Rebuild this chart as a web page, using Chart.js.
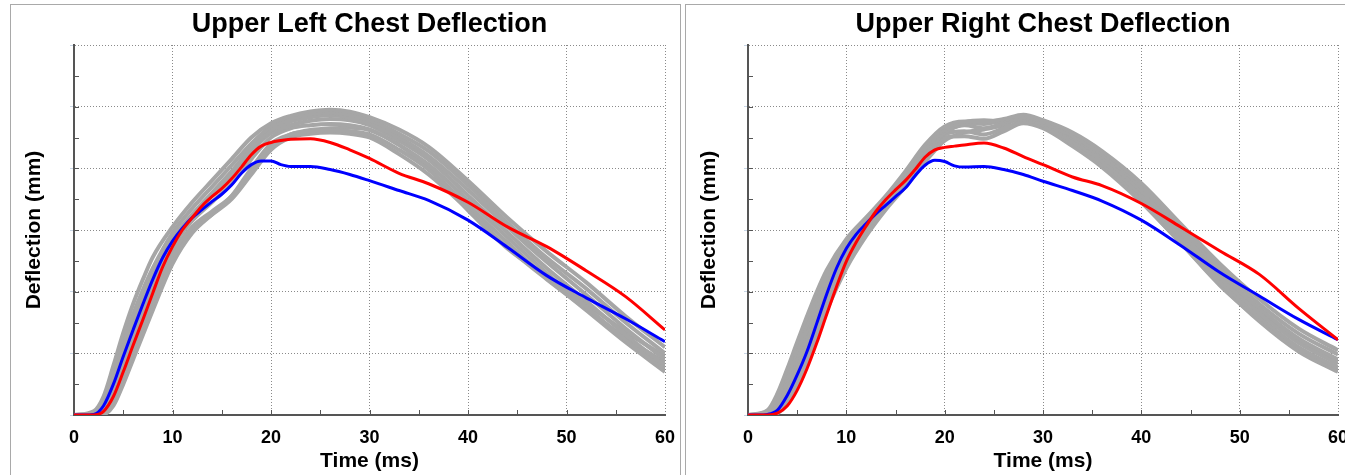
<!DOCTYPE html>
<html>
<head>
<meta charset="utf-8">
<script src="https://cdn.jsdelivr.net/npm/chart.js@4/dist/chart.umd.min.js"></script>
<style>
body { margin: 0; background: #fff; overflow: hidden; width: 1345px; height: 475px; position: relative; }
.panel { position: absolute; top: 4px; height: 480px; border: 1px solid #a9a9a9; background: #fff; overflow: hidden; }
#leftPanel { left: 10px; width: 669px; }
#rightPanel { left: 685px; width: 680px; }
canvas { position: absolute; left: 0; top: 0; }
</style>
</head>
<body>
<div class="panel" id="leftPanel"><canvas id="leftChart" width="669" height="470"></canvas></div>
<div class="panel" id="rightPanel"><canvas id="rightChart" width="669" height="470"></canvas></div>
<script>
// time axis (ms) for the two highlighted curves and for the grey corridor curves
var timeMain = [0, 1, 2, 3, 4, 5, 6, 7, 8, 9, 10, 11, 12, 13, 14, 15, 16, 17, 18, 19, 20, 21, 22, 24, 26, 28, 30, 33, 36, 40, 44, 48, 52, 56, 60];
var timeGray = [0, 2, 3, 4, 5, 6, 7, 8, 10, 12, 14, 16, 18, 20, 22, 24, 26, 28, 30, 33, 36, 40, 44, 48, 52, 56, 60];
var xTicks = [0, 10, 20, 30, 40, 50, 60];

var leftBlue = [0, 0, 0.1, 1.5, 5, 9.5, 13.8, 18, 22, 25.5, 28.2, 30.3, 32, 33.3, 34.6, 35.8, 37.3, 39.2, 40.6, 41.2, 41.2, 40.6, 40.3, 40.3, 39.8, 39, 38, 36.4, 34.8, 31.6, 27.2, 22.6, 19, 15.6, 11.9];
var leftRed = [0, 0, 0, 0.6, 3, 7, 11.3, 15.5, 19.8, 24, 27.3, 30, 32, 33.9, 35.4, 36.7, 38.3, 40.2, 42.2, 43.6, 44.2, 44.5, 44.7, 44.8, 44.2, 43, 41.6, 39.2, 37.5, 34.5, 30.5, 27.3, 23.4, 19.2, 13.8];
var leftGray = [
    [0, 0.6, 3, 8, 13.3, 18, 22, 25.6, 30.5, 34.5, 38, 41.5, 45, 47.3, 48.5, 49.2, 49.5, 49.2, 48.3, 46.3, 43.5, 38, 32, 26.5, 21.5, 16, 11],
    [0, 0.4, 2.4, 6.8, 11.7, 16.3, 20.3, 23.8, 29.5, 33.5, 37, 40.5, 44, 46.8, 48, 48.8, 49, 48.7, 47.8, 45.6, 42.8, 37.3, 31.2, 25.5, 20.5, 15, 10],
    [0, 0.2, 1.8, 5.8, 10.5, 15, 19, 22.5, 28.5, 32.5, 36, 39.5, 43.3, 46.2, 47.6, 48.3, 48.6, 48.2, 47.3, 45, 42, 36.5, 30.5, 24.8, 19.5, 14, 9],
    [0, 0.1, 1.2, 4.8, 9.2, 13.5, 17.5, 21.3, 28, 32, 35.5, 39, 42.8, 45.7, 47, 47.7, 48, 47.8, 47, 44.5, 41.4, 35.6, 29.6, 23.8, 18.5, 13, 8],
    [0, 0, 0.8, 3.8, 8, 12.3, 16.3, 20.2, 27.2, 31.5, 34.5, 37.5, 41.5, 45, 46.5, 47, 47.2, 47, 46.3, 43.8, 40.6, 34.8, 28.8, 23, 17.5, 12.2, 7.5],
    [0, 0, 0.5, 3, 7, 11.2, 15.3, 19.2, 26.2, 30.5, 33, 35.5, 39.5, 43.5, 45.5, 46, 46.2, 46, 45.5, 43, 39.8, 34, 28, 22.2, 17, 11.8, 7],
    [0, 0, 0.3, 2.3, 6, 10, 14, 18, 25.3, 30, 32.5, 35, 39, 43, 45, 45.6, 45.8, 45.6, 45, 42.3, 39, 33.3, 27.2, 22, 17.2, 12.5, 8.5],
    [0, 0, 0.1, 1.5, 5, 9, 13, 17, 24.5, 29.5, 32.5, 35.5, 40, 44, 45.5, 46.2, 46.5, 46.6, 46.2, 43.8, 40, 33.2, 27, 22.5, 18, 13.5, 9.5]
];

var rightBlue = [0, 0, 0.1, 0.8, 3.2, 6.5, 10.3, 14.9, 19.6, 23.8, 27, 29.3, 31, 32.6, 34, 35.4, 36.8, 38.8, 40.5, 41.3, 41.1, 40.4, 40.2, 40.3, 39.8, 39, 37.9, 36.4, 34.7, 31.6, 27.5, 23.1, 19.3, 15.5, 12.2];
var rightRed = [0, 0, 0, 0.3, 1.5, 4, 7.5, 11.7, 16.3, 20.8, 24.9, 28, 30.6, 33, 34.9, 36.5, 38, 39.8, 41.8, 43, 43.4, 43.6, 43.8, 44.1, 43.3, 41.9, 40.6, 38.6, 37.2, 34.3, 30.5, 26.6, 22.8, 17.3, 12.2];
var rightGray = [
    [0, 0.8, 3.5, 7.5, 11.8, 16, 20, 23.5, 28.5, 32, 35.5, 39.5, 43.8, 46.8, 47.6, 47.5, 48, 48.7, 47.8, 45.8, 42.8, 37.6, 31, 24.5, 18.8, 14, 10.5],
    [0, 0.5, 2.8, 6.5, 10.5, 14.8, 19, 22.5, 28, 31.5, 35, 39, 43.3, 46.5, 47.3, 47.2, 47.8, 48.5, 47.5, 45.3, 42.3, 37, 30.4, 23.8, 18, 13.2, 9.8],
    [0, 0.3, 2.2, 5.5, 9.5, 13.8, 18, 21.7, 27.5, 31.2, 34.8, 38.8, 43, 46.2, 47.5, 47.8, 47.5, 48.2, 47.3, 44.9, 41.8, 36.3, 29.7, 23, 17.3, 12.4, 9],
    [0, 0.2, 1.6, 4.6, 8.5, 12.8, 17, 21, 27, 31, 34.5, 38.5, 42.5, 45.8, 47, 46.5, 47.3, 48, 47, 44.4, 41.2, 35.7, 29.1, 22.3, 16.6, 11.7, 8.3],
    [0, 0.1, 1.2, 3.8, 7.5, 11.8, 16, 20, 26.5, 30.5, 34.2, 38, 42, 45.5, 46, 45.5, 46.5, 47.5, 46.8, 44, 40.7, 35.1, 28.5, 21.6, 15.9, 11, 7.7],
    [0, 0, 0.8, 3, 6.5, 10.5, 15, 19, 25.5, 30, 34, 37.5, 41.5, 45, 45.2, 44.8, 46, 47.3, 46.5, 43.6, 40.2, 34.5, 27.9, 21, 15.4, 10.5, 7.2],
    [0, 0, 0.5, 2.3, 5.5, 9.5, 14, 18, 24.5, 29.5, 33.5, 37.5, 42, 45.8, 47.2, 47.6, 47.8, 48.2, 47.2, 44.7, 41.5, 36, 29.3, 22.5, 17, 12.1, 8.8],
    [0, 0, 0.3, 1.8, 4.8, 8.5, 13, 17, 23.8, 29, 33.3, 37, 41, 44.5, 45.8, 46.3, 47, 48.3, 47.6, 45, 41, 34.6, 27.9, 21.2, 15.2, 10.3, 7]
];

var FONT = '"Liberation Sans", Arial, sans-serif';

function getLineDataset(times, values, color, width, order) {
    return {
        data: times.map((t, i) => ({x: t, y: values[i]})),
        borderColor: color,
        borderWidth: width,
        pointRadius: 0,
        fill: false,
        cubicInterpolationMode: 'monotone',
        order: order
    };
}

// small inward tick marks every 5 units on both axes
var minorTicks = {
    id: 'minorTicks',
    afterDraw(chart) {
        var ctx = chart.ctx;
        var area = chart.chartArea;
        var xs = chart.scales.x;
        var ys = chart.scales.y;
        ctx.save();
        ctx.strokeStyle = '#555';
        ctx.lineWidth = 1;
        ctx.beginPath();
        for (var v = 5; v < 60; v += 5) {
            var px = Math.round(xs.getPixelForValue(v)) + 0.5;
            ctx.moveTo(px, area.bottom);
            ctx.lineTo(px, area.bottom - 5);
            var py = Math.round(ys.getPixelForValue(v)) + 0.5;
            ctx.moveTo(area.left, py);
            ctx.lineTo(area.left + 5, py);
        }
        ctx.stroke();
        ctx.restore();
    }
};

function createDeflectionChart(canvas_id, title_text, gray_list, blue_data, red_data, axis_width, right_pad) {
    var datasets = [];
    datasets.push(getLineDataset(timeMain, red_data, '#ff0000', 3, 0));
    datasets.push(getLineDataset(timeMain, blue_data, '#0000ff', 3, 1));
    gray_list.forEach(g => datasets.push(getLineDataset(timeGray, g, '#a6a6a6', 4, 2)));

    var ctx = document.getElementById(canvas_id).getContext('2d');
    new Chart(ctx, {
        type: 'line',
        data: { datasets: datasets },
        plugins: [minorTicks],
        options: {
            responsive: false,
            animation: false,
            devicePixelRatio: 1,
            layout: { padding: { left: 0, right: right_pad, top: 0, bottom: 0 } },
            plugins: {
                legend: { display: false },
                tooltip: { enabled: false },
                title: {
                    display: true,
                    text: title_text,
                    fullSize: false,
                    color: '#000',
                    font: { family: FONT, size: 27, weight: 'bold' },
                    padding: { top: 3, bottom: 4.6 }
                }
            },
            scales: {
                x: {
                    type: 'linear',
                    min: 0,
                    max: 60,
                    afterBuildTicks: s => { s.ticks = xTicks.map(v => ({value: v})); },
                    ticks: {
                        color: '#000',
                        padding: 12.5,
                        maxRotation: 0,
                        autoSkip: false,
                        font: { family: FONT, size: 18, weight: 'bold' }
                    },
                    grid: { color: '#8a8a8a', lineWidth: 1, drawTicks: false },
                    border: { color: '#555', width: 2, dash: [1, 2] },
                    title: {
                        display: true,
                        text: 'Time (ms)',
                        color: '#000',
                        font: { family: FONT, size: 21, weight: 'bold' },
                        padding: { top: 0, bottom: 1.4 }
                    },
                    afterFit: s => { s.height = 60; s.paddingLeft = 0; s.paddingRight = 0; }
                },
                y: {
                    min: 0,
                    max: 60,
                    ticks: { display: false, stepSize: 10 },
                    grid: { color: '#8a8a8a', lineWidth: 1, drawTicks: true, tickLength: 4, tickColor: '#c8d6e6' },
                    border: { color: '#555', width: 2, dash: [1, 2] },
                    title: {
                        display: true,
                        text: 'Deflection (mm)',
                        color: '#000',
                        font: { family: FONT, size: 21, weight: 'bold' },
                        padding: { top: 11, bottom: 0 }
                    },
                    afterFit: s => { s.width = axis_width; }
                }
            }
        }
    });
}

createDeflectionChart('leftChart', 'Upper Left Chest Deflection', leftGray, leftBlue, leftRed, 63, 15);
createDeflectionChart('rightChart', 'Upper Right Chest Deflection', rightGray, rightBlue, rightRed, 62, 17);
</script>
</body>
</html>
